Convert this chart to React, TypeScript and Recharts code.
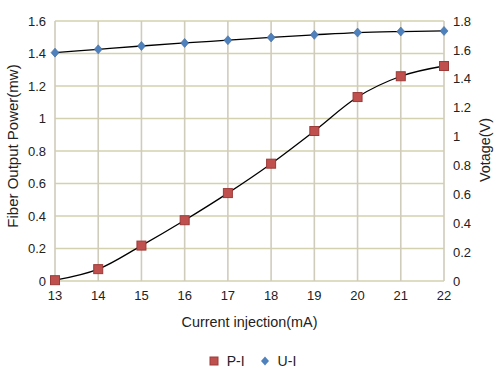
import React from 'react';
import { LineChart, Line, XAxis, YAxis, CartesianGrid, Legend } from 'recharts';

const currents = [13, 14, 15, 16, 17, 18, 19, 20, 21, 22];
const powerPI = [0.005, 0.073, 0.218, 0.374, 0.541, 0.722, 0.923, 1.132, 1.26, 1.323];
const voltageUI = [1.581, 1.604, 1.627, 1.648, 1.667, 1.686, 1.704, 1.72, 1.727, 1.731];
const leftTicks = [0, 0.2, 0.4, 0.6, 0.8, 1, 1.2, 1.4, 1.6];
const rightTicks = [0, 0.2, 0.4, 0.6, 0.8, 1, 1.2, 1.4, 1.6, 1.8];

const data = currents.map((c, i) => ({ current: c, pi: powerPI[i], ui: voltageUI[i] }));

const FONT = '"Liberation Sans", Arial, sans-serif';

const SquareDot = (props: any) => {
  const { cx, cy } = props;
  if (cx == null || cy == null) return null;
  return <rect x={cx - 4.5} y={cy - 4.5} width={9} height={9} fill="#c0504d" stroke="#9b3b39" strokeWidth={1} />;
};

const DiamondDot = (props: any) => {
  const { cx, cy } = props;
  if (cx == null || cy == null) return null;
  return <path d={`M${cx},${cy - 4.5} L${cx + 4},${cy} L${cx},${cy + 4.5} L${cx - 4},${cy} Z`} fill="#4f81bd" stroke="#3f6a9e" strokeWidth={0.6} />;
};

const fmt = (v: number) => String(Math.round(v * 10) / 10);

const LegendContent = () => (
  <div style={{ display: 'flex', justifyContent: 'center', alignItems: 'center', height: 40, fontFamily: FONT, fontSize: 14, color: '#222' }}>
    <svg width={10} height={10} style={{ marginLeft: 4 }}>
      <rect x={1} y={1} width={8} height={8} fill="#c0504d" stroke="#9b3b39" strokeWidth={1} />
    </svg>
    <span style={{ marginLeft: 8, marginRight: 15 }}>P-I</span>
    <svg width={10} height={10}>
      <path d="M5,0.5 L9,5 L5,9.5 L1,5 Z" fill="#4f81bd" />
    </svg>
    <span style={{ marginLeft: 8 }}>U-I</span>
  </div>
);

export default function App() {
  return (
    <div style={{ position: 'absolute', left: 0, top: 0, width: 501, height: 381, background: '#fff' }}>
      <LineChart width={501} height={381} data={data} margin={{ top: 21, right: 0, left: 0, bottom: 0 }}>
        <CartesianGrid vertical={false} stroke="#d3d1ae" strokeWidth={1.3} yAxisId="left" />
        <CartesianGrid horizontal={false} stroke="#d0ccbc" strokeWidth={1.6} yAxisId="left" />
        <XAxis
          dataKey="current"
          type="number"
          domain={[13, 22]}
          ticks={currents}
          interval={0}
          axisLine={false}
          tickLine={false}
          tickSize={0}
          tickMargin={10}
          height={60}
          tick={{ fill: '#222', fontSize: 13, fontFamily: FONT }}
          label={{
            content: (p: any) => {
              const vb = p.viewBox || {};
              return (
                <text x={vb.x + vb.width / 2} y={327} textAnchor="middle" fontFamily={FONT} fontSize={14.4} fill="#222">
                  Current injection(mA)
                </text>
              );
            },
          }}
        />
        <YAxis
          yAxisId="left"
          orientation="left"
          domain={[0, 1.6]}
          ticks={leftTicks}
          tickFormatter={fmt}
          width={55}
          axisLine={false}
          tickLine={false}
          tickSize={0}
          tickMargin={9}
          tick={{ fill: '#222', fontSize: 13, fontFamily: FONT }}
          label={{
            content: () => (
              <text x={0} y={0} transform="translate(18,146) rotate(-90)" textAnchor="middle" fontFamily={FONT} fontSize={15} fill="#222">
                Fiber Output Power(mw)
              </text>
            ),
          }}
        />
        <YAxis
          yAxisId="right"
          orientation="right"
          domain={[0, 1.8]}
          ticks={rightTicks}
          tickFormatter={fmt}
          width={57}
          axisLine={false}
          tickLine={false}
          tickSize={0}
          tickMargin={9}
          tick={{ fill: '#222', fontSize: 13, fontFamily: FONT }}
          label={{
            content: () => (
              <text x={0} y={0} transform="translate(490,150) rotate(-90)" textAnchor="middle" fontFamily={FONT} fontSize={14.4} fill="#222">
                Votage(V)
              </text>
            ),
          }}
        />
        <Legend verticalAlign="bottom" height={40} content={<LegendContent />} />
        <Line
          yAxisId="left"
          dataKey="pi"
          name="P-I"
          type="monotone"
          stroke="#000"
          strokeWidth={1.3}
          dot={<SquareDot />}
          activeDot={false}
          isAnimationActive={false}
        />
        <Line
          yAxisId="right"
          dataKey="ui"
          name="U-I"
          type="monotone"
          stroke="#000"
          strokeWidth={1.3}
          dot={<DiamondDot />}
          activeDot={false}
          isAnimationActive={false}
        />
      </LineChart>
    </div>
  );
}
